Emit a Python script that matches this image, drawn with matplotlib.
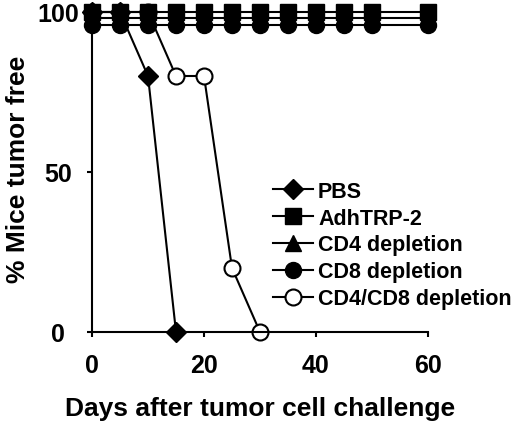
import matplotlib
matplotlib.use("Agg")
import matplotlib.pyplot as plt

# survival data
days_full = [0, 5, 10, 15, 20, 25, 30, 35, 40, 45, 50, 60]
pbs_days = [0, 5, 10, 15]
pbs_vals = [100, 100, 80, 0]
adh_vals = [100] * len(days_full)
cd4_vals = [98] * len(days_full)
cd8_vals = [96] * len(days_full)
cd48_days = [0, 5, 10, 15, 20, 25, 30]
cd48_vals = [100, 100, 100, 80, 80, 20, 0]

labels = ["PBS", "AdhTRP-2", "CD4 depletion", "CD8 depletion", "CD4/CD8 depletion"]

plt.rcParams['font.family'] = ['Liberation Sans', 'DejaVu Sans']
plt.rcParams['font.weight'] = 'bold'

fig = plt.figure(figsize=(5.2, 4.27), dpi=100)
ax = fig.add_axes([92 / 520, 94 / 427, 336 / 520, 320 / 427])

lw = 1.5
common = dict(color='black', lw=lw, clip_on=False, mec='black')
ax.plot(pbs_days, pbs_vals, marker='D', ms=10, mfc='black', label=labels[0], **common)
ax.plot(cd48_days, cd48_vals, marker='o', ms=11.5, mfc='white', mew=1.5, label=labels[4], **common)
ax.plot(days_full, cd8_vals, marker='o', ms=11.5, mfc='black', label=labels[3], **common)
ax.plot(days_full, cd4_vals, marker='^', ms=12, mfc='black', label=labels[2], **common)
ax.plot(days_full, adh_vals, marker='s', ms=11, mfc='black', label=labels[1], **common)

ax.set_xlim(0, 60)
ax.set_ylim(0, 100)
ax.set_xticks([0, 20, 40, 60])
ax.set_yticks([0, 50, 100])

for s in ['top', 'right']:
    ax.spines[s].set_visible(False)
for s in ['left', 'bottom']:
    ax.spines[s].set_linewidth(lw)

ax.tick_params(axis='x', direction='out', length=3.6, width=lw, pad=11.5, labelsize=18)
ax.tick_params(axis='y', direction='out', length=3.6, width=lw, pad=21, labelsize=18)
for t in ax.get_yticklabels():
    t.set_ha('center')

ax.set_xlabel("Days after tumor cell challenge", fontsize=19, fontweight='bold')
ax.xaxis.set_label_coords(0.5, -0.2)
ax.set_ylabel("% Mice tumor free", fontsize=19, fontweight='bold', va='center')
ax.yaxis.set_label_coords(-0.22, 0.51)

handles, labs = ax.get_legend_handles_labels()
order = [labs.index(l) for l in labels]
ax.legend([handles[i] for i in order], [labs[i] for i in order],
          loc='center left', bbox_to_anchor=((273 - 92) / 336, (333 - 246) / 320),
          frameon=False, fontsize=15.5, handlelength=1.86, handletextpad=0.23,
          labelspacing=0.27, borderpad=0, borderaxespad=0)

fig.savefig("out.png", dpi=100)
